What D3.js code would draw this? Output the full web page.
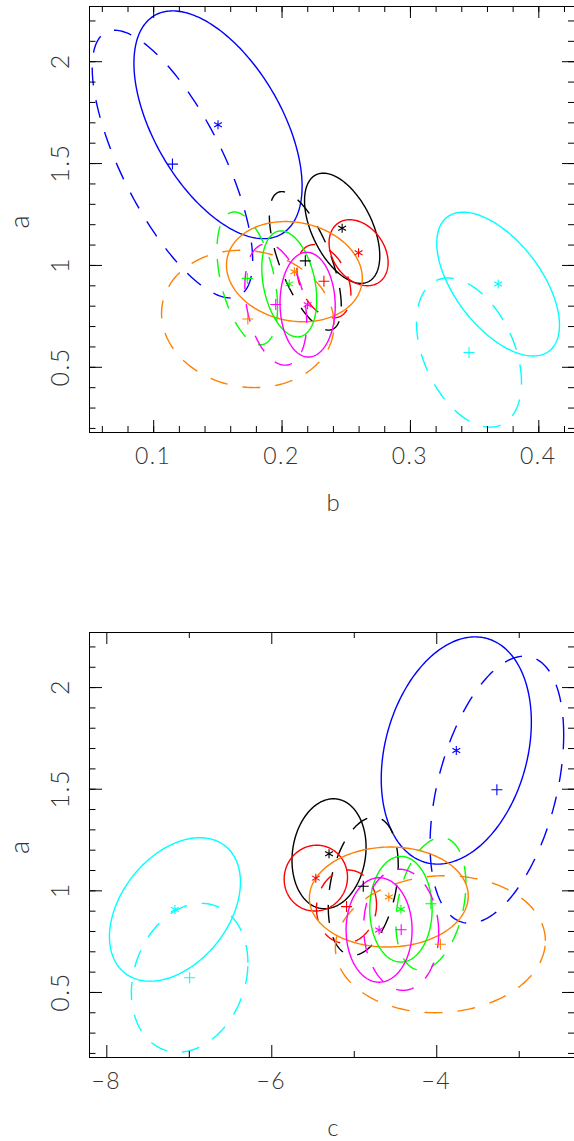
<!DOCTYPE html>
<html>
<head>
<meta charset="utf-8">
<script src="https://cdn.jsdelivr.net/npm/d3@7"></script>
<style>
  html, body { margin: 0; padding: 0; background: #fff; }
  svg text { font-family: "DejaVu Sans ExtraLight", "Lato", "DejaVu Sans", sans-serif; font-weight: 300; fill: #333; }
</style>
</head>
<body>
<svg id="chart" width="574" height="1141"></svg>
<script>
// Seven samples, each with two fits: fit 1 (solid, marked "*") and fit 2 (dashed, marked "+").
const sampleColors = ["#0000ff", "#000000", "#ff0000", "#ff8000", "#00ff00", "#ff00ff", "#00ffff"];

// Fit 1: means, 1-sigma widths and correlations
const bMean1 = [0.1505, 0.2472, 0.2600, 0.2100, 0.2060, 0.2203, 0.3687];
const bSig1  = [0.0655, 0.0293, 0.0230, 0.0529, 0.0214, 0.0215, 0.0478];
const cMean1 = [-3.757, -5.300, -5.460, -4.575, -4.428, -4.693, -7.168];
const cSig1  = [0.910, 0.449, 0.384, 0.963, 0.378, 0.400, 0.794];
const aMean1 = [1.688, 1.180, 1.060, 0.967, 0.907, 0.805, 0.906];
const aSig1  = [0.559, 0.2705, 0.162, 0.246, 0.260, 0.257, 0.353];
const rhoAB1 = [-0.54, -0.50, -0.30, -0.13, -0.30, -0.03, -0.57];
const rhoAC1 = [0.25, 0.12, 0.03, 0.02, 0.00, 0.00, 0.38];

// Fit 2
const bMean2 = [0.1150, 0.2185, 0.2330, 0.1737, 0.1733, 0.1955, 0.3460];
const bSig2  = [0.0625, 0.0280, 0.0210, 0.0672, 0.0236, 0.0241, 0.0409];
const cMean2 = [-3.265, -4.885, -5.088, -3.950, -4.065, -4.425, -6.990];
const cSig2  = [0.810, 0.424, 0.364, 1.273, 0.424, 0.455, 0.7065];
const aMean2 = [1.495, 1.020, 0.920, 0.735, 0.934, 0.806, 0.570];
const aSig2  = [0.657, 0.340, 0.180, 0.337, 0.326, 0.298, 0.366];
const rhoAB2 = [-0.72, -0.65, -0.35, -0.08, -0.43, -0.30, -0.40];
const rhoAC2 = [0.41, 0.30, 0.05, 0.05, 0.30, -0.05, 0.20];

// Axis domains and ticks
const bDomain = [0.05, 0.4278];
const cDomain = [-8.21, -2.33];
const aDomain = [0.18, 2.271];
const bMajor = [0.1, 0.2, 0.3, 0.4];
const bMinor = d3.range(0.06, 0.43, 0.02);
const cMajor = [-8, -6, -4];
const cMinor = [-7, -5, -3];
const aMajor = [0.5, 1, 1.5, 2];
const aMinor = d3.range(0.2, 2.3, 0.1);

const svg = d3.select("#chart");

function ellipsePoints(mx, sx, my, sy, rho) {
  const k = Math.sqrt(1 - rho * rho);
  return d3.range(0, 240).map(i => {
    const t = i / 240 * 2 * Math.PI;
    return [mx + sx * Math.cos(t), my + sy * (rho * Math.cos(t) + k * Math.sin(t))];
  });
}

function drawPanel(opts) {
  const { top, bottom, left, right, xDomain, xMajor, xMinor, xFmt, xTitle,
          xMean1, xSig1, rho1, xMean2, xSig2, rho2, id } = opts;
  const x = d3.scaleLinear().domain(xDomain).range([left, right]);
  const y = d3.scaleLinear().domain(aDomain).range([bottom, top]);
  const g = svg.append("g");

  g.append("clipPath").attr("id", id).append("rect")
    .attr("x", left).attr("y", top).attr("width", right - left).attr("height", bottom - top);

  const plot = g.append("g").attr("clip-path", `url(#${id})`);
  const line = d3.line().x(d => x(d[0])).y(d => y(d[1])).curve(d3.curveLinearClosed);

  sampleColors.forEach((col, i) => {
    plot.append("path")
      .attr("d", line(ellipsePoints(xMean2[i], xSig2[i], aMean2[i], aSig2[i], rho2[i])))
      .attr("fill", "none").attr("stroke", col).attr("stroke-width", 1.4)
      .attr("stroke-dasharray", "18,15");
    plot.append("path")
      .attr("d", line(ellipsePoints(xMean1[i], xSig1[i], aMean1[i], aSig1[i], rho1[i])))
      .attr("fill", "none").attr("stroke", col).attr("stroke-width", 1.4);
  });

  // centre markers: "*" for fit 1, "+" for fit 2
  sampleColors.forEach((col, i) => {
    const sx = x(xMean1[i]), sy = y(aMean1[i]);
    const r = 4.5;
    let d = "";
    [90, 30, 150].forEach(deg => {
      const a = deg * Math.PI / 180;
      d += `M${sx - r * Math.cos(a)},${sy - r * Math.sin(a)}L${sx + r * Math.cos(a)},${sy + r * Math.sin(a)}`;
    });
    plot.append("path").attr("d", d).attr("stroke", col).attr("stroke-width", 1.1).attr("fill", "none");
    const px = x(xMean2[i]), py = y(aMean2[i]);
    const p = 5.5;
    plot.append("path")
      .attr("d", `M${px - p},${py}L${px + p},${py}M${px},${py - p}L${px},${py + p}`)
      .attr("stroke", col).attr("stroke-width", 1.1).attr("fill", "none");
  });

  // inward ticks on all four sides
  const tickStyle = sel => {
    sel.select(".domain").remove();
    sel.selectAll("line").attr("stroke", "#000").attr("stroke-width", 1);
  };
  const mk = (axisFn, scale, vals, size, pos, isX) => {
    const ax = axisFn(scale).tickValues(vals).tickSize(size).tickSizeOuter(0).tickFormat("");
    g.append("g").attr("transform", isX ? `translate(0,${pos})` : `translate(${pos},0)`).call(ax).call(tickStyle);
  };
  mk(d3.axisBottom, x, xMajor, -12, bottom, true);
  mk(d3.axisBottom, x, xMinor, -6, bottom, true);
  mk(d3.axisTop, x, xMajor, -12, top, true);
  mk(d3.axisTop, x, xMinor, -6, top, true);
  mk(d3.axisLeft, y, aMajor, -13, left, false);
  mk(d3.axisLeft, y, aMinor, -6.5, left, false);
  mk(d3.axisRight, y, aMajor, -12, right, false);
  mk(d3.axisRight, y, aMinor, -6, right, false);

  g.append("rect").attr("x", left + 0.5).attr("y", top + 0.5)
    .attr("width", right - left).attr("height", bottom - top)
    .attr("fill", "none").attr("stroke", "#000").attr("stroke-width", 1);

  // tick labels
  g.selectAll(".xl").data(xMajor).join("text")
    .attr("x", d => x(d)).attr("y", bottom + 31.5)
    .attr("text-anchor", "middle").attr("font-size", 23)
    .attr("letter-spacing", 1.5)
    .text(xFmt);
  g.selectAll(".yl").data(aMajor).join("text")
    .attr("transform", d => `translate(69,${y(d)}) rotate(-90)`)
    .attr("text-anchor", "middle").attr("font-size", 25)
    .attr("letter-spacing", 1.5)
    .text(d => d3.format("")(d));

  // axis titles
  g.append("text").attr("x", 333).attr("y", bottom + 79)
    .attr("text-anchor", "middle").attr("font-size", 24).text(xTitle);
  g.append("text").attr("transform", `translate(28.5,${(top + bottom) / 2 + 3}) rotate(-90)`)
    .attr("text-anchor", "middle").attr("font-size", 27).text("a");
}

drawPanel({
  id: "clipTop", top: 6, bottom: 432, left: 89, right: 574,
  xDomain: bDomain, xMajor: bMajor, xMinor: bMinor, xFmt: d => d3.format(".1f")(d), xTitle: "b",
  xMean1: bMean1, xSig1: bSig1, rho1: rhoAB1, xMean2: bMean2, xSig2: bSig2, rho2: rhoAB2
});
drawPanel({
  id: "clipBot", top: 632, bottom: 1057, left: 89, right: 574,
  xDomain: cDomain, xMajor: cMajor, xMinor: cMinor, xFmt: d => "\u2212" + Math.abs(d), xTitle: "c",
  xMean1: cMean1, xSig1: cSig1, rho1: rhoAC1, xMean2: cMean2, xSig2: cSig2, rho2: rhoAC2
});
</script>
</body>
</html>
